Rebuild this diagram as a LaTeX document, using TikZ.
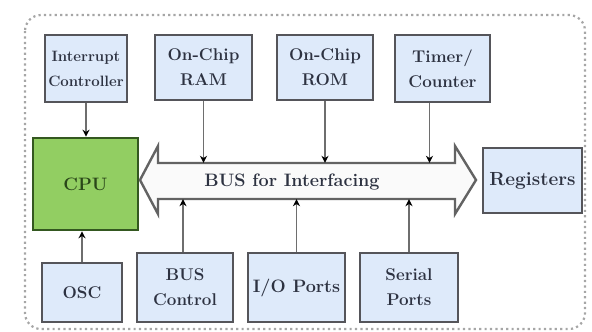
\documentclass[tikz,border=0pt]{standalone}
\usetikzlibrary{arrows.meta}
\definecolor{boxfill}{RGB}{222,234,250}
\definecolor{boxline}{RGB}{85,85,90}
\definecolor{cpufill}{RGB}{146,206,98}
\definecolor{cpuline}{RGB}{52,88,32}
\definecolor{txt}{RGB}{45,50,65}
\definecolor{conn}{RGB}{110,110,110}
\begin{document}
\begin{tikzpicture}[x=1pt,y=-1pt,
  unit/.style={draw=boxline, line width=2.6pt, fill=boxfill, text=txt,
    align=center, inner sep=0pt, font=\fontsize{17}{25}\selectfont\bfseries},
  cpubox/.style={draw=cpuline, line width=2.6pt, fill=cpufill, text=cpuline!80!black,
    align=center, inner sep=0pt, font=\fontsize{18}{22}\selectfont\bfseries},
  link/.style={draw=conn, line width=1.8pt, -{Stealth[length=7pt,width=7pt,color=black]}},
]
\useasboundingbox (0,0) rectangle (592,332);
% outer frame
\draw[gray!70, line width=2.2pt, dash pattern=on 2.2pt off 3.2pt, rounded corners=16pt]
  (25,15) rectangle (585,329);

% top row
\node[unit, minimum width=82pt, minimum height=67pt, font=\fontsize{15}{25}\selectfont\bfseries] (intc) at (86,68.5) {Interrupt\\Controller};
\node[unit, minimum width=97pt, minimum height=65pt] (ram) at (203.5,67.5) {On-Chip\\RAM};
\node[unit, minimum width=96pt, minimum height=65pt] (rom) at (325,67.5) {On-Chip\\ROM};
\node[unit, minimum width=95pt, minimum height=67pt] (tmr) at (442.5,68.5) {Timer/\\Counter};

% CPU
\node[cpubox, minimum width=105pt, minimum height=92pt] (cpu) at (85.5,184) {CPU};

% bus arrow
\draw[draw=conn!90!black, line width=2.4pt, fill=gray!4, line join=miter]
  (140,180) -- (158,146) -- (158,163) -- (455,163) -- (455,146) -- (476,180)
  -- (455,214) -- (455,199) -- (158,199) -- (158,214) -- cycle;
\node[minimum width=297pt, minimum height=36pt, inner sep=0pt] (shaft) at (306.5,181) {};
\node[text=txt, font=\fontsize{18}{20}\selectfont\bfseries, inner sep=0pt] (buslabel) at (292,182) {BUS for Interfacing};

% Registers
\node[unit, minimum width=99pt, minimum height=65pt, font=\fontsize{19}{25}\selectfont\bfseries] (reg) at (532.5,180.5) {Registers};

% bottom row
\node[unit, minimum width=80pt, minimum height=59pt] (osc) at (82,292.5) {OSC};
\node[unit, minimum width=96pt, minimum height=69pt] (busc) at (185,287.5) {BUS\\Control};
\node[unit, minimum width=97pt, minimum height=69pt, font=\fontsize{18}{25}\selectfont\bfseries] (io) at (296.5,287.5) {I/O Ports};
\node[unit, minimum width=98pt, minimum height=69pt] (ser) at (409,287.5) {Serial\\Ports};

\coordinate (tmrout) at ([xshift=-13pt]tmr.south);
\coordinate (buscout) at ([xshift=-2pt]busc.north);

% connectors
\draw[link] (intc.south) -- (cpu.north -| intc.south);
\draw[link] (ram.south) -- (shaft.north -| ram.south);
\draw[link] (rom.south) -- (shaft.north -| rom.south);
\draw[link] (tmrout) -- (shaft.north -| tmrout);
\draw[link] (osc.north) -- (cpu.south -| osc.north);
\draw[link] (buscout) -- (shaft.south -| buscout);
\draw[link] (io.north) -- (shaft.south -| io.north);
\draw[link] (ser.north) -- (shaft.south -| ser.north);
\end{tikzpicture}
\end{document}
